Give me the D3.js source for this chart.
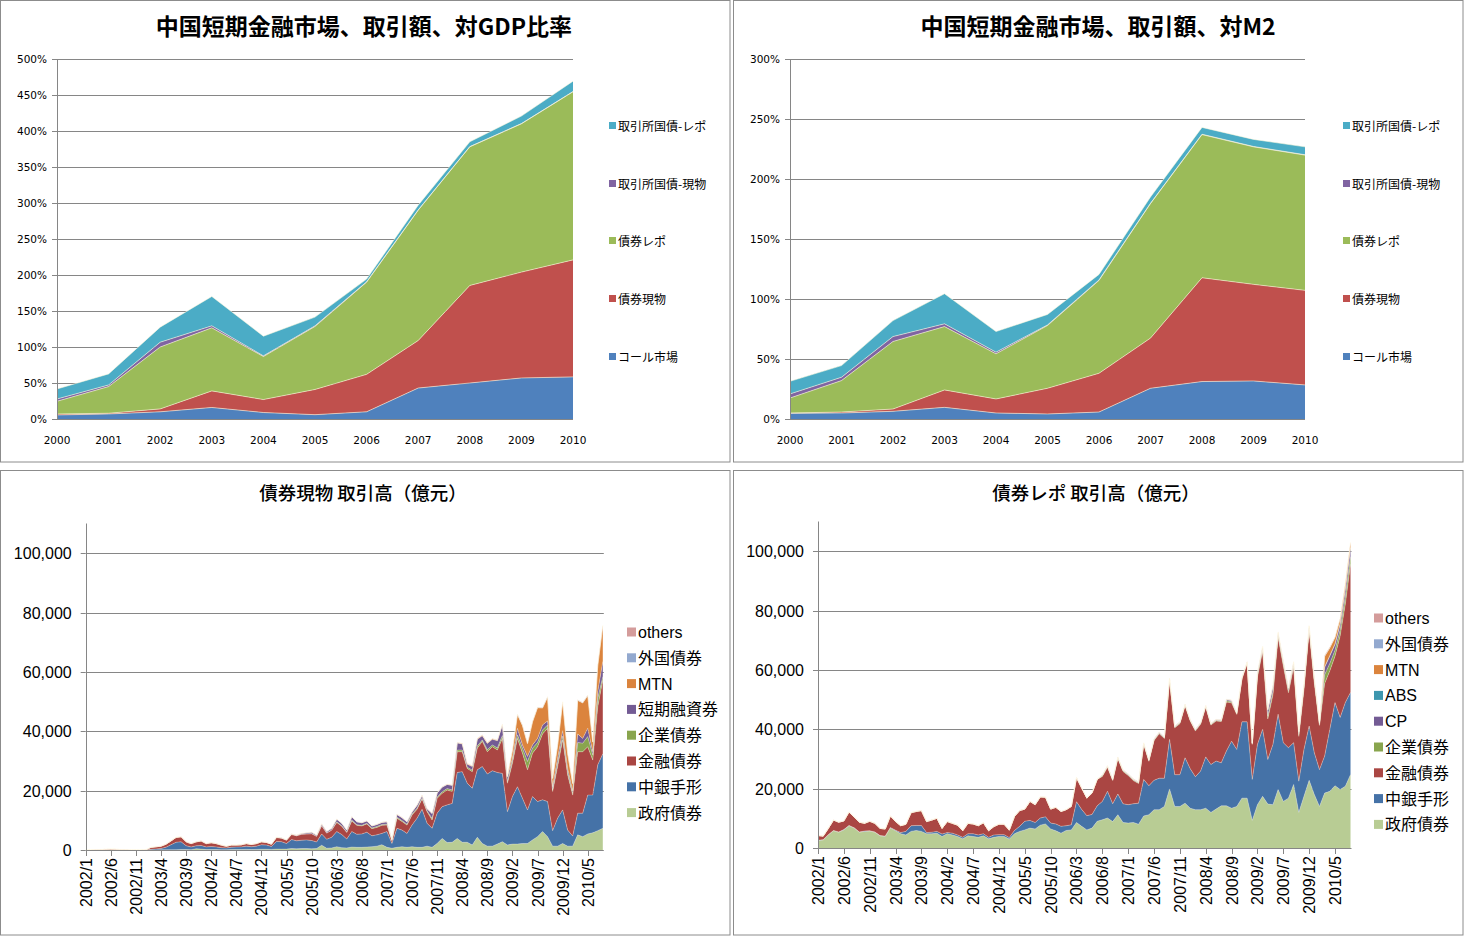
<!DOCTYPE html>
<html><head><meta charset="utf-8">
<script src="https://cdn.jsdelivr.net/npm/d3@7"></script>
<style>body{margin:0;background:#fff}svg{display:block}</style>
</head><body>
<svg id="c" width="1471" height="936"></svg>
<script>
// ---------- Top charts (annual, % ratios) ----------
const years = [2000,2001,2002,2003,2004,2005,2006,2007,2008,2009,2010];
const topSeriesNames = ["コール市場","債券現物","債券レポ","取引所国債-現物","取引所国債-レポ"];
// ratio to GDP (%)
const gdpCall   = [5.6, 7, 10, 16, 9, 6, 10, 43, 50, 57, 58.5];
const gdpSpot   = [1.4, 1, 4, 23, 18, 35, 52, 66, 135.5, 147, 162.5];
const gdpRepo   = [17.6, 37, 86, 87.6, 59.7, 87.5, 128, 181, 192.5, 206, 233.5];
const gdpExSpot = [3.2, 2.3, 6.7, 2.8, 1, 0.9, 0.5, 0.4, 0.3, 0.3, 0.3];
const gdpExRepo = [13.9, 15.3, 20.9, 40.8, 27.3, 12.1, 3.8, 6.6, 6.7, 10.4, 14.4];
// ratio to M2 (%)
const m2Call   = [4.7, 5, 6.4, 9.7, 5, 4.2, 5.8, 25.6, 31.2, 31.7, 28.4];
const m2Spot   = [0.3, 0.8, 1.9, 14.5, 11.7, 21.4, 32.3, 41.8, 86.5, 80.5, 78.8];
const m2Repo   = [12.5, 26.2, 56.3, 52.8, 37.6, 52.3, 77.4, 112.1, 119.3, 114.6, 112.7];
const m2ExSpot = [3.4, 2.8, 4.1, 2.3, 1.4, 0.5, 0.4, 0.3, 0.3, 0.3, 0.3];
const m2ExRepo = [10.5, 9.7, 13.3, 25.1, 17.2, 8.7, 4.6, 5.2, 5.7, 5.9, 6.6];

// ---------- Bottom charts (monthly, 億元), 2002/1 .. 2010/8 ----------
const monthTickLabels = ["2002/1","2002/6","2002/11","2003/4","2003/9","2004/2","2004/7","2004/12","2005/5","2005/10","2006/3","2006/8","2007/1","2007/6","2007/11","2008/4","2008/9","2009/2","2009/7","2009/12","2010/5"];

// 債券現物
const cashGov = [0,0,0,0,0,0,0,0,0,0,0,0,0,
 30,40,50,60,80,100,150,150,120,400,300,150,150,150,100,100,150,150,150,200,150,200,250,250,200,300,300,300,500,400,500,500,400,500,1600,600,700,1100,800,700,1000,900,900,1000,1100,1300,1800,
 900,600,900,1100,900,1100,900,900,1300,900,2200,3900,2500,2600,3900,2600,2600,1700,4300,2200,1300,1300,2000,2800,1700,2000,2000,2200,2200,3400,4500,6200,4500,1300,1300,2200,1300,1300,5100,4500,5400,5800,6500,7300];
const cashBill = [0,0,0,0,0,0,0,0,0,0,0,0,0,
 200,300,450,900,1700,2500,2600,1300,900,1000,1200,900,1000,900,700,600,800,850,900,1100,950,1100,1500,1400,1000,2600,2500,1900,3000,2700,2800,2900,2800,2200,3800,3000,3600,5100,4400,3000,5200,4400,4500,5000,3700,3800,3800,
 5300,1600,6400,5600,4700,7300,9800,12800,7700,6400,10200,10700,12700,13100,22200,23800,19900,19100,22700,25900,24300,25400,24100,23000,11200,16000,19300,15200,11300,14600,11800,10700,11800,5200,9400,11300,5400,3400,7300,7900,13100,12700,22200,25100];
const cashFin = [0,30,80,150,250,300,250,150,60,30,20,40,120,
 650,740,780,1000,1280,1650,1700,1300,1130,1350,1550,1100,1300,1100,850,550,700,650,700,850,750,850,1000,900,750,1300,1200,1100,1700,1700,2000,2000,2300,1900,2800,2100,2400,3100,2800,2200,3600,3000,2700,2800,2400,2500,2700,
 2200,900,3400,2900,2800,3400,3000,3500,3900,2800,5000,4500,5000,4000,7000,6700,5000,5600,7300,8500,7500,8100,7600,11800,9600,11200,16300,15200,13500,14600,18500,22200,24700,13200,17400,23600,18600,13800,20700,20700,16300,11800,19600,24900];
const cashCorp = [0,0,0,0,0,0,0,0,0,0,0,0,0,0,0,0,0,0,0,0,0,0,0,0,0,0,0,0,0,0,0,0,0,0,0,0,0,0,0,0,0,0,0,0,0,0,0,0,0,0,
 200,200,200,300,200,200,200,200,300,300,
 300,100,300,300,300,300,400,300,300,500,400,500,500,500,600,600,400,500,700,500,700,600,700,1000,500,
 900,1200,1700,2800,1700,1400,1300,1100,500,1100,1300,900,600,3100,2900,3400,1700,2800,1100];
const cashCP = [0,0,0,0,0,0,0,0,0,0,0,0,0,0,0,0,0,0,0,0,0,0,0,0,0,0,0,0,0,0,0,0,0,0,0,0,0,0,
 100,100,100,200,200,300,400,500,400,600,500,600,
 900,800,600,1100,1000,900,800,700,700,700,
 800,300,1000,1000,800,700,1000,900,700,1700,1400,1600,1400,1600,2400,2000,1000,1200,2300,1400,2100,1900,2400,3500,1600,
 800,2200,1100,1700,1100,1400,1700,1400,1100,1700,1800,1300,800,2900,1600,2800,1100,2300,5100];
const cashMTN = [0,0,0,0,0,0,0,0,0,0,0,0,0,0,0,0,0,0,0,0,0,0,0,0,0,0,0,0,0,0,0,0,0,0,0,0,0,0,0,0,0,0,0,0,0,0,0,0,0,0,0,0,0,0,0,0,0,0,0,0,0,0,0,0,0,0,0,0,0,0,0,0,0,0,0,
 200,200,200,200,200,200,200,200,200,200,
 2600,4600,6500,4300,7700,10300,5700,8000,2700,4300,9600,4900,2400,11300,11900,11000,3200,8800,12100];
const cashForeign = [0,0,0,0,0,0,0,0,0,0,0,0,0,0,0,0,0,0,0,0,0,0,0,0,0,0,0,0,0,0,0,0,0,0,0,0,0,0,0,0,0,0,0,0,0,0,0,0,0,0,0,0,0,0,0,0,0,0,0,0,0,0,0,0,0,0,0,0,0,0,0,0,0,0,0,0,0,0,0,0,0,0,0,0,0,
 100,100,100,100,100,100,100,100,100,100,100,100,100,100,100,100,100,100,100];
const cashOthers = [0,0,0,0,0,0,0,0,0,0,0,0,0,
 50,50,50,50,50,50,50,50,50,50,50,50,50,50,50,50,50,50,50,50,50,50,50,50,50,50,50,50,50,50,50,50,50,50,50,50,50,50,50,50,50,50,50,50,50,
 100,100,100,100,100,100,100,100,100,100,100,100,100,100,100,100,100,100,100,100,100,100,100,100,100,100,100,100,100,100,100,100,100,100,100,100,100,100,100,100,100,100,100,100];

// 債券レポ
const repoGov = [2500,2700,4400,5800,5300,6100,7500,6700,5300,5600,5700,5300,4100,3900,6700,5800,4800,4400,5600,5900,5600,4800,4800,5000,3900,4800,4400,3900,3100,4100,3900,3600,4100,3100,3600,3900,3900,3000,4800,5600,6100,6700,6400,7700,8100,6400,5800,5000,5900,6100,8600,7300,6100,6700,9000,9500,10100,8900,11200,8600,8400,8600,8000,10800,11200,12900,12900,14000,19900,14000,14000,15100,13400,12900,12900,13400,12000,13100,14200,14200,13400,14000,16800,16800,9300,14600,17400,14800,14600,19700,15700,16800,21400,12000,17400,22800,18000,14000,18500,19100,21000,19700,20800,24700];
const repoBill = [100,100,100,100,100,100,100,100,100,100,100,100,100,100,200,200,
 400,1200,1900,1700,2000,400,500,600,800,400,600,500,500,700,900,800,700,500,800,600,600,500,1100,1700,2900,2600,2200,2400,2400,2000,2300,2300,1600,1700,7000,5700,4800,4600,5200,6200,9000,6000,7000,6300,6200,6300,7100,12300,9800,9900,10600,9500,16700,10700,10700,15300,13300,11100,13000,17300,16100,16200,14500,18500,22600,19200,25700,25700,13800,20300,22600,15000,20300,25400,19800,17000,14100,10500,15800,18300,14100,12400,12500,20900,28000,24300,28200,27700];
const repoFin = [1600,1200,2100,3500,3300,2900,4500,3600,3300,2600,3200,2900,2400,2400,3900,2900,2300,2400,4400,4700,5000,3700,4100,4400,1900,3700,3300,3300,2200,3500,3300,3100,3700,2200,2800,3500,3500,2500,4700,5300,4100,6400,6000,7100,6600,4700,5600,5000,5400,6200,8100,7200,5900,7200,8900,8400,8100,7800,11900,10900,9800,7800,6600,11800,8200,13400,15000,13400,20100,15800,17200,17500,16100,15400,15800,16800,13300,13500,13900,16500,12900,11800,14400,19700,11800,22700,26400,13700,16700,25900,25900,18500,25500,15100,20300,32100,23600,14900,24400,19700,15600,27500,33200,43200];
const repoCorp = [0,0,0,0,0,0,0,0,0,0,0,0,0,0,0,0,0,0,0,0,0,0,0,0,0,0,0,0,0,0,0,0,0,0,0,0,0,0,0,0,0,0,0,0,0,0,0,0,0,0,0,0,0,0,0,
 200,200,200,200,200,200,200,200,200,200,200,200,200,200,200,200,200,200,200,200,200,200,200,200,
 400,400,200,200,200,200,500,500,1000,1000,600,600,600,600,600,600,600,600,300,3000,2500,2000,2000,2500,2500];
const repoCP = [0,0,0,0,0,0,0,0,0,0,0,0,0,0,0,0,0,0,0,0,0,0,0,0,0,0,0,0,0,0,0,0,0,0,0,0,0,0,0,0,0,0,0,0,0,0,0,0,0,0,0,0,0,0,0,
 200,200,200,200,200,200,200,200,200,200,200,200,200,200,200,200,200,200,200,200,200,200,200,200,
 400,400,200,200,200,200,800,800,2000,2000,800,800,800,800,800,800,800,800,400,2500,2500,2000,2000,2500,3000];
const repoABS = [0,0,0,0,0,0,0,0,0,0,0,0,0,0,0,0,0,0,0,0,0,0,0,0,0,0,0,0,0,0,0,0,0,0,0,0,0,0,0,0,0,0,0,0,0,0,0,0,0,0,0,0,0,0,0,0,0,0,0,0,0,0,0,0,0,0,0,0,0,0,0,0,0,0,0,0,0,0,0,0,0,0,0,0,0,0,0,0,0,0,0,0,0,0,0,0,0,0,
 100,100,100,100,100,100];
const repoMTN = [0,0,0,0,0,0,0,0,0,0,0,0,0,0,0,0,0,0,0,0,0,0,0,0,0,0,0,0,0,0,0,0,0,0,0,0,0,0,0,0,0,0,0,0,0,0,0,0,0,0,0,0,0,0,0,0,0,0,0,0,0,0,0,0,0,0,0,0,0,0,0,0,0,0,0,0,0,0,0,0,0,0,0,0,0,
 100,100,100,100,200,200,200,200,200,200,200,200,100,3500,2600,2200,1700,1700,1700];
const repoForeign = [0,0,0,0,0,0,0,0,0,0,0,0,0,0,0,0,0,0,0,0,0,0,0,0,0,0,0,0,0,0,0,0,0,0,0,0,0,0,0,0,0,0,0,0,0,0,0,0,0,0,0,0,0,0,0,
 100,100,100,100,100,100,100,100,100,100,100,100,100,100,100,100,100,100,100,100,100,100,100,100,100,100,100,100,100,100,100,100,100,100,100,100,100,100,100,100,100,100,100,
 200,100,100,100,100,100];
const repoOthers = [100,100,100,100,100,100,100,100,100,100,100,100,100,100,100,100,100,100,100,100,100,100,100,100,100,100,100,100,100,100,100,100,100,100,100,100,100,100,100,100,100,100,100,100,100,100,100,100,100,100,100,100,100,100,100,100,100,100,100,100,100,100,100,100,100,100,100,100,100,100,100,100,100,100,100,100,100,100,100,100,100,100,100,100,100,100,100,100,100,100,100,100,100,100,100,100,100,100,
 200,200,100,100,100,100];

// ---------- drawing ----------
const svg = d3.select("#c");
const JP = "'Noto Sans CJK JP','Noto Sans',sans-serif";
const AR = "'Liberation Sans',Arial,'Noto Sans CJK JP',sans-serif";
const gridCol = "#868686";

// panel frames
[[0.5,0.5,729.5,461.5],[733.5,0.5,729.5,461.5],[0.5,470.5,729.5,464.5],[733.5,470.5,729.5,464.5]].forEach(p=>{
  svg.append("rect").attr("x",p[0]).attr("y",p[1]).attr("width",p[2]).attr("height",p[3])
    .attr("fill","#fff").attr("stroke","#8c8c8c").attr("stroke-width",1);
});

const topColors = {call:"#4F81BD", spot:"#C0504D", repo:"#9BBB59", exSpot:"#8064A2", exRepo:"#4BACC6"};

function topChart(o){
  const g = svg.append("g");
  const x = d3.scaleLinear().domain([years[0], years[years.length-1]]).range([o.x0, o.x1]);
  const y = d3.scaleLinear().domain([0, o.yMax]).range([419, 59]);
  const rows = years.map((yr,i)=>({yr, call:o.call[i], spot:o.spot[i], repo:o.repo[i], exSpot:o.exSpot[i], exRepo:o.exRepo[i]}));
  const keys = ["call","spot","repo","exSpot","exRepo"];
  const stack = d3.stack().keys(keys)(rows);
  const ticks = d3.range(0, o.yMax+1, 50);
  g.selectAll(".gl").data(ticks.filter(t=>t>0)).join("line")
    .attr("x1",o.x0).attr("x2",o.x1).attr("y1",d=>Math.round(y(d))+0.5).attr("y2",d=>Math.round(y(d))+0.5)
    .attr("stroke",gridCol);
  const area = d3.area().x(d=>x(d.data.yr)).y0(d=>y(d[0])).y1(d=>y(d[1]));
  const line = d3.line().x(d=>x(d.data.yr)).y(d=>y(d[1]));
  g.selectAll(".ar").data(stack).join("path").attr("d",area).attr("fill",d=>topColors[d.key]);
  g.selectAll(".ln").data(stack).join("path").attr("d",line).attr("fill","none")
    .attr("stroke","rgba(255,250,220,0.7)").attr("stroke-width",0.8);
  g.append("line").attr("x1",o.x0+0.5).attr("x2",o.x0+0.5).attr("y1",59).attr("y2",419).attr("stroke",gridCol);
  g.append("line").attr("x1",o.x0).attr("x2",o.x1).attr("y1",419.5).attr("y2",419.5).attr("stroke",gridCol);
  g.selectAll(".yt").data(ticks).join("line")
    .attr("x1",o.x0-5).attr("x2",o.x0).attr("y1",d=>Math.round(y(d))+0.5).attr("y2",d=>Math.round(y(d))+0.5).attr("stroke",gridCol);
  g.selectAll(".yl").data(ticks).join("text")
    .attr("x",o.x0-10).attr("y",d=>y(d)+4).attr("text-anchor","end")
    .attr("font-family","'DejaVu Sans',sans-serif").attr("font-size",10.5).text(d=>d+"%");
  g.selectAll(".xl").data(years).join("text")
    .attr("x",d=>x(d)).attr("y",444).attr("text-anchor","middle")
    .attr("font-family","'DejaVu Sans',sans-serif").attr("font-size",10.5).text(d=>d);
  g.append("text").attr("x",o.tx).attr("y",35).attr("text-anchor","middle")
    .attr("font-family",JP).attr("font-weight","bold").attr("font-size",23).text(o.title);
  const leg = [["exRepo","取引所国債-レポ"],["exSpot","取引所国債-現物"],["repo","債券レポ"],["spot","債券現物"],["call","コール市場"]];
  const ly = [126,184,241,299,357];
  leg.forEach((l,i)=>{
    g.append("rect").attr("x",o.lx).attr("y",ly[i]-4).attr("width",7).attr("height",7).attr("fill",topColors[l[0]]);
    g.append("text").attr("x",o.lx+9).attr("y",ly[i]+4.5).attr("font-family",JP).attr("font-size",12).text(l[1]);
  });
}

topChart({x0:57, x1:573, yMax:500, title:"中国短期金融市場、取引額、対GDP比率", tx:364, lx:609,
  call:gdpCall, spot:gdpSpot, repo:gdpRepo, exSpot:gdpExSpot, exRepo:gdpExRepo});
topChart({x0:790, x1:1305, yMax:300, title:"中国短期金融市場、取引額、対M2", tx:1098, lx:1343,
  call:m2Call, spot:m2Spot, repo:m2Repo, exSpot:m2ExSpot, exRepo:m2ExRepo});

const nMonths = repoGov.length;
const monthIdx = d3.range(nMonths);
const colors = {gov:"#B8CC94", bill:"#4572A7", fin:"#AA4643", corp:"#89A54E", cp:"#735B94", abs:"#3D96AE", mtn:"#DB843D", foreign:"#93A9CF", others:"#D49C9B"};

function bottomChart(o){
  const g = svg.append("g");
  const x = d3.scaleLinear().domain([0, nMonths-1]).range([o.x0, o.x1]);
  const y = d3.scaleLinear().domain([0,110000]).range([o.y0, o.y0 - 326.5]);
  const rows = monthIdx.map(i=>{ const r={i}; o.keys.forEach(k=>r[k]=o.data[k][i]||0); return r; });
  const stack = d3.stack().keys(o.keys)(rows);
  const ticks = [0,20000,40000,60000,80000,100000];
  g.selectAll(".gl").data(ticks.filter(t=>t>0)).join("line")
    .attr("x1",o.x0).attr("x2",o.x1+1).attr("y1",d=>Math.round(y(d))+0.5).attr("y2",d=>Math.round(y(d))+0.5)
    .attr("stroke",gridCol);
  const area = d3.area().x(d=>x(d.data.i)).y0(d=>y(d[0])).y1(d=>y(d[1]));
  const line = d3.line().x(d=>x(d.data.i)).y(d=>y(d[1]));
  g.selectAll(".ar").data(stack).join("path").attr("d",area).attr("fill",d=>colors[d.key]);
  g.selectAll(".ln").data(stack).join("path").attr("d",line).attr("fill","none")
    .attr("stroke","rgba(255,250,230,0.45)").attr("stroke-width",0.7);
  g.append("line").attr("x1",Math.round(o.x0)+0.5).attr("x2",Math.round(o.x0)+0.5).attr("y1",y(110000)).attr("y2",o.y0).attr("stroke",gridCol);
  g.append("line").attr("x1",o.x0).attr("x2",o.x1+1).attr("y1",Math.round(o.y0)+0.5).attr("y2",Math.round(o.y0)+0.5).attr("stroke",gridCol);
  g.selectAll(".yt").data(ticks).join("line")
    .attr("x1",o.x0-5).attr("x2",o.x0).attr("y1",d=>Math.round(y(d))+0.5).attr("y2",d=>Math.round(y(d))+0.5).attr("stroke",gridCol);
  g.selectAll(".yl").data(ticks).join("text")
    .attr("x",o.x0-14).attr("y",d=>y(d)+6).attr("text-anchor","end")
    .attr("font-family",AR).attr("font-size",16).text(d=>d3.format(",")(d));
  const tickIdx = monthTickLabels.map((l,k)=>k*5);
  g.selectAll(".xt").data(tickIdx).join("line")
    .attr("x1",d=>Math.round(x(d))+0.5).attr("x2",d=>Math.round(x(d))+0.5).attr("y1",o.y0).attr("y2",o.y0+6).attr("stroke",gridCol);
  g.selectAll(".xl").data(monthTickLabels).join("text")
    .attr("transform",(d,k)=>`translate(${x(k*5)+6},${o.y0+8}) rotate(-90)`)
    .attr("text-anchor","end").attr("font-family",AR).attr("font-size",16).text(d=>d);
  g.append("text").attr("x",o.tx).attr("y",500).attr("text-anchor","middle")
    .attr("font-family",JP).attr("font-size",18.5).attr("font-weight",500).text(o.title);
  o.legend.forEach((l,k)=>{
    const yy = o.ly + k*25.8;
    g.append("rect").attr("x",o.lx).attr("y",yy-4.5).attr("width",9).attr("height",9).attr("fill",colors[l[0]]);
    g.append("text").attr("x",o.lx+11).attr("y",yy+6).attr("font-family",AR).attr("font-size",16).text(l[1]);
  });
}

bottomChart({x0:85.7, x1:602.8, y0:850, tx:363, title:"債券現物  取引高（億元）", lx:627, ly:632,
  keys:["gov","bill","fin","corp","cp","mtn","foreign","others"],
  data:{gov:cashGov,bill:cashBill,fin:cashFin,corp:cashCorp,cp:cashCP,mtn:cashMTN,foreign:cashForeign,others:cashOthers},
  legend:[["others","others"],["foreign","外国債券"],["mtn","MTN"],["cp","短期融資券"],["corp","企業債券"],["fin","金融債券"],["bill","中銀手形"],["gov","政府債券"]]});
bottomChart({x0:818, x1:1350.5, y0:848, tx:1096, title:"債券レポ  取引高（億元）", lx:1374, ly:618,
  keys:["gov","bill","fin","corp","cp","abs","mtn","foreign","others"],
  data:{gov:repoGov,bill:repoBill,fin:repoFin,corp:repoCorp,cp:repoCP,abs:repoABS,mtn:repoMTN,foreign:repoForeign,others:repoOthers},
  legend:[["others","others"],["foreign","外国債券"],["mtn","MTN"],["abs","ABS"],["cp","CP"],["corp","企業債券"],["fin","金融債券"],["bill","中銀手形"],["gov","政府債券"]]});
</script>
</body></html>
